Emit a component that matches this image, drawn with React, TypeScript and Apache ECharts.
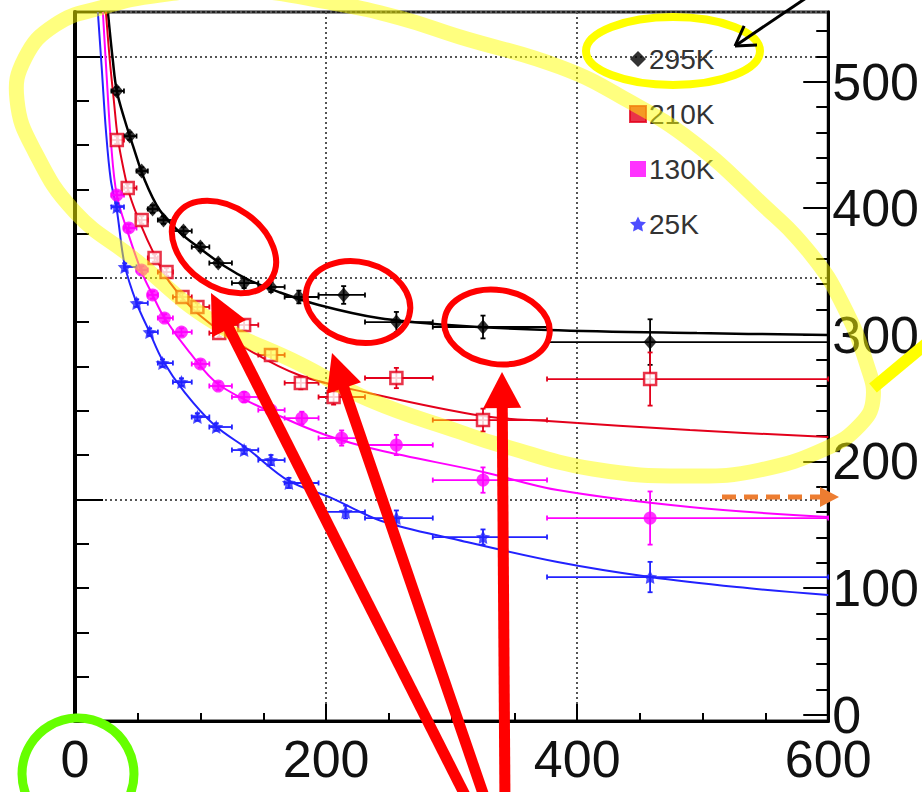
import React, { useEffect, useRef } from 'react';
import * as echarts from 'echarts';

// ---------- data ----------
const RIGHT_MAJOR = [0, 100, 200, 300, 400, 500];
const RIGHT_MINOR = [0, 20, 40, 60, 80, 100, 120, 140, 160, 180, 200, 220, 240, 260, 280, 300, 320, 340, 360, 380, 400, 420, 440, 460, 480, 500, 520, 540];
const BIN_LO = [29, 39, 49, 58, 66, 78, 93, 107, 125, 146, 167, 194, 231, 285, 376];
const BIN_HI = [39, 49, 58, 66, 78, 93, 107, 125, 146, 167, 194, 231, 285, 376, 600];

const LEGEND_NAMES = ['295K', '210K', '130K', '25K'];

const K295_X = [33.3, 43.6, 53.1, 61.8, 70.5, 86.4, 99.9, 114.1, 134.7, 156.1, 178.3, 214.0, 256.0, 325.0, 458.1];
const K295_Y = [492.6, 457.0, 429.4, 399.4, 390.7, 382.0, 369.4, 356.7, 340.9, 337.8, 329.9, 331.5, 310.1, 306.2, 294.3];
const K295_E = [3, 3, 3, 3, 3, 3, 3, 3, 4, 4, 5, 7, 8, 9, 18];

const K210_X = [33.3, 42.0, 53.1, 63.4, 72.9, 85.6, 97.5, 114.9, 134.7, 156.1, 179.9, 206.0, 256.0, 325.0, 458.1];
const K210_Y = [453.9, 416.0, 390.7, 360.7, 349.6, 329.9, 322.0, 301.4, 307.8, 284.1, 262.0, 250.9, 265.9, 232.7, 265.1];
const K210_E = [3, 3, 3, 3, 3, 3, 3, 3, 4, 4, 5, 6, 8, 9, 21];

const K130_X = [33.3, 42.8, 53.1, 61.8, 71.3, 84.8, 99.9, 114.1, 134.7, 156.1, 180.7, 212.4, 256.0, 325.0, 458.1];
const K130_Y = [410.4, 384.4, 351.2, 331.5, 313.3, 302.2, 277.0, 259.6, 250.9, 240.6, 234.3, 218.5, 213.0, 185.3, 155.3];
const K130_E = [3, 3, 3, 3, 3, 3, 3, 3, 4, 4, 5, 6, 8, 10, 21];

const K25_X = [33.3, 39.6, 49.1, 59.4, 69.7, 84.8, 97.5, 112.5, 134.7, 156.1, 170.4, 215.6, 256.0, 325.0, 458.1];
const K25_Y = [401.0, 353.6, 325.1, 302.2, 277.7, 262.7, 235.1, 227.2, 209.0, 201.1, 183.0, 160.1, 155.3, 140.3, 108.7];
const K25_E = [3, 3, 3, 3, 3, 3, 3, 3, 3, 4, 4, 5, 6, 6, 12];

const FIT295_X = [26.2, 30.1, 33.3, 39.6, 46.0, 55.5, 67.4, 83.2, 99.1, 118.9, 138.7, 162.5, 194.2, 241.7, 297.2, 376.5, 495.4, 600];
const FIT295_Y = [555, 517.1, 492.6, 469.7, 449.9, 422.3, 398.6, 381.2, 368.6, 354.4, 343.3, 333.8, 323.6, 313.3, 307.8, 303.9, 301.4, 299.9];

const FIT210_X = [24.6, 27.7, 30.9, 34.1, 38.8, 43.6, 51.5, 63.4, 75.3, 99.1, 138.7, 178.3, 233.8, 325.0, 376.5, 489.8, 600];
const FIT210_Y = [555, 517.1, 485.5, 455.5, 430.2, 410.4, 389.1, 363.0, 341.7, 315.7, 288.0, 268.3, 254.1, 235.9, 231.9, 224.8, 219.3];

const FIT130_X = [22.2, 25.4, 28.5, 33.3, 42.8, 53.1, 61.8, 71.3, 91.1, 114.9, 164.9, 199.7, 241.7, 325.0, 384.4, 489.8, 600];
const FIT130_Y = [555, 501.3, 453.9, 410.4, 378.8, 349.6, 331.5, 313.3, 286.4, 260.4, 235.1, 220.9, 209.0, 191.7, 177.4, 164.0, 156.1];

const FIT25_X = [18.2, 21.4, 24.6, 28.5, 33.3, 39.6, 49.1, 59.4, 69.7, 87.2, 111.0, 138.7, 170.4, 204.5, 244.1, 305.2, 384.4, 458.1, 527.1, 600];
const FIT25_Y = [555, 509.2, 461.8, 422.3, 398.6, 355.1, 325.1, 302.2, 280.1, 254.8, 228.8, 209.0, 184.6, 171.1, 153.0, 138.0, 120.6, 108.7, 100.8, 94.5];

// ---------- styles ----------
const C_BLACK = '#000000';
const C_RED = '#e3001b';
const C_MAG = '#ff00ff';
const C_BLUE = '#2222ff';
const FONT = 'Liberation Sans, Arial, Helvetica, sans-serif';
const STAR = 'path://M0,-10 L2.9,-4 9.5,-3.1 4.7,1.5 5.9,8.1 0,5 -5.9,8.1 -4.7,1.5 -9.5,-3.1 -2.9,-4 Z';

function zip(xs: number[], ys: number[]) {
  return xs.map((x, i) => [x, ys[i]]);
}

function fitSeries(xs: number[], ys: number[], color: string, width: number) {
  return {
    type: 'line',
    yAxisIndex: 1,
    data: zip(xs, ys),
    showSymbol: false,
    smooth: 0.35,
    lineStyle: { color, width },
    silent: true,
    z: 2,
    clip: true,
  };
}

function errSeries(xs: number[], ys: number[], es: number[], color: string) {
  const data = xs.map((x, i) => [x, ys[i], BIN_LO[i], BIN_HI[i], ys[i] - es[i], ys[i] + es[i]]);
  return {
    type: 'custom',
    yAxisIndex: 1,
    data,
    silent: true,
    z: 3,
    clip: true,
    encode: { x: 0, y: 1 },
    renderItem: (params: any, api: any) => {
      const x = api.value(0), y = api.value(1);
      const l = api.coord([api.value(2), y]);
      const r = api.coord([api.value(3), y]);
      const lo = api.coord([x, api.value(4)]);
      const hi = api.coord([x, api.value(5)]);
      const st = { stroke: color, lineWidth: 1.8 };
      const cap = 2.5;
      return {
        type: 'group',
        children: [
          { type: 'line', shape: { x1: l[0], y1: l[1], x2: r[0], y2: r[1] }, style: st },
          { type: 'line', shape: { x1: l[0], y1: l[1] - cap, x2: l[0], y2: l[1] + cap }, style: st },
          { type: 'line', shape: { x1: r[0], y1: r[1] - cap, x2: r[0], y2: r[1] + cap }, style: st },
          { type: 'line', shape: { x1: lo[0], y1: lo[1], x2: hi[0], y2: hi[1] }, style: st },
          { type: 'line', shape: { x1: lo[0] - cap, y1: lo[1], x2: lo[0] + cap, y2: lo[1] }, style: st },
          { type: 'line', shape: { x1: hi[0] - cap, y1: hi[1], x2: hi[0] + cap, y2: hi[1] }, style: st },
        ],
      };
    },
  };
}

function arrowEls(x1: number, y1: number, x2: number, y2: number, color: string, w: number, headLen: number, headHalf: number) {
  const dx = x2 - x1, dy = y2 - y1;
  const L = Math.hypot(dx, dy);
  const ux = dx / L, uy = dy / L;
  const bx = x2 - ux * headLen, by = y2 - uy * headLen;
  const px = -uy, py = ux;
  return [
    { type: 'line', z: 120, silent: true, shape: { x1, y1, x2: bx + ux * 3, y2: by + uy * 3 }, style: { stroke: color, lineWidth: w } },
    {
      type: 'polygon', z: 120, silent: true,
      shape: { points: [[x2, y2], [bx + px * headHalf, by + py * headHalf], [bx - px * headHalf, by - py * headHalf]] },
      style: { fill: color },
    },
  ];
}

function vArrowEls(x1: number, y1: number, x2: number, y2: number, color: string, w: number, arm: number) {
  const dx = x1 - x2, dy = y1 - y2;
  const L = Math.hypot(dx, dy);
  const ux = dx / L, uy = dy / L;
  const a = 0.55;
  const r1x = ux * Math.cos(a) - uy * Math.sin(a), r1y = ux * Math.sin(a) + uy * Math.cos(a);
  const r2x = ux * Math.cos(-a) - uy * Math.sin(-a), r2y = ux * Math.sin(-a) + uy * Math.cos(-a);
  const st = { stroke: color, lineWidth: w };
  return [
    { type: 'line', z: 120, silent: true, shape: { x1, y1, x2, y2 }, style: st },
    { type: 'line', z: 120, silent: true, shape: { x1: x2, y1: y2, x2: x2 + r1x * arm, y2: y2 + r1y * arm }, style: st },
    { type: 'line', z: 120, silent: true, shape: { x1: x2, y1: y2, x2: x2 + r2x * arm, y2: y2 + r2y * arm }, style: st },
  ];
}

const BIG_LOOP = [[17, 100], [25, 58], [55, 25], [100, 8], [160, -5], [240, -10], [333, 3], [400, 18], [460, 37], [560, 67], [627, 100], [693, 142], [760, 202], [810, 253], [843, 305], [867, 365], [873, 400], [860, 425], [827, 448], [760, 470], [693, 476], [593, 469], [500, 445], [460, 432], [370, 400], [300, 364], [212, 321], [133, 258], [75, 212], [35, 152]];

export default function App() {
  const ref = useRef<HTMLDivElement>(null);
  useEffect(() => {
    if (!ref.current) return;
    const chart = echarts.init(ref.current, undefined, { renderer: 'svg' });
    const dotted = { type: [2, 3], color: '#555', width: 2 };
    const graphics: any[] = [
      {
        type: 'polygon', z: 110, silent: true,
        shape: { points: BIG_LOOP, smooth: 0.45 },
        style: { fill: 'none', stroke: '#ffff00', lineWidth: 15, opacity: 0.5 },
      },
      {
        type: 'ellipse', z: 115, silent: true, x: 673, y: 51,
        shape: { cx: 0, cy: 0, rx: 87, ry: 34 },
        style: { fill: 'none', stroke: '#ffff00', lineWidth: 8 },
      },
      {
        type: 'line', z: 115, silent: true,
        shape: { x1: 873, y1: 388, x2: 926, y2: 344 },
        style: { stroke: '#ffff00', lineWidth: 12 },
      },
      ...vArrowEls(812, -6, 735, 46, '#000', 3, 22),
      {
        type: 'ellipse', z: 118, silent: true, x: 224, y: 247, rotation: -0.61,
        shape: { cx: 0, cy: 0, rx: 57, ry: 40 },
        style: { fill: 'none', stroke: '#ff0000', lineWidth: 6 },
      },
      {
        type: 'ellipse', z: 118, silent: true, x: 358, y: 302, rotation: -0.26,
        shape: { cx: 0, cy: 0, rx: 53, ry: 40 },
        style: { fill: 'none', stroke: '#ff0000', lineWidth: 6 },
      },
      {
        type: 'ellipse', z: 118, silent: true, x: 497, y: 327, rotation: -0.15,
        shape: { cx: 0, cy: 0, rx: 53, ry: 37 },
        style: { fill: 'none', stroke: '#ff0000', lineWidth: 6 },
      },
      ...arrowEls(470, 805, 211, 293, '#ff0000', 11, 40, 19),
      ...arrowEls(487, 805, 332, 353, '#ff0000', 11, 37, 18),
      ...arrowEls(505, 805, 502, 372, '#ff0000', 11, 36, 19),
      {
        type: 'line', z: 115, silent: true,
        shape: { x1: 722, y1: 497, x2: 822, y2: 497 },
        style: { stroke: '#ed7d31', lineWidth: 5, lineDash: [14, 8] },
      },
      {
        type: 'polygon', z: 115, silent: true,
        shape: { points: [[820, 487], [839, 497], [820, 507]] },
        style: { fill: '#ed7d31' },
      },
      {
        type: 'circle', z: 118, silent: true,
        shape: { cx: 78, cy: 774, r: 56 },
        style: { fill: 'none', stroke: '#66ff00', lineWidth: 9 },
      },
    ];

    const option: any = {
      animation: false,
      backgroundColor: '#ffffff',
      grid: { left: 75, right: 90, top: 12, bottom: 71, show: true, borderColor: '#222', borderWidth: 3, backgroundColor: 'transparent' },
      legend: {
        orient: 'vertical',
        left: 624,
        top: 40,
        itemWidth: 16,
        itemHeight: 16,
        itemGap: 27,
        selectedMode: false,
        textStyle: { fontSize: 28, color: '#333', fontFamily: FONT, padding: [0, 0, 0, -2] },
        data: [
          { name: LEGEND_NAMES[0], icon: 'diamond', itemStyle: { color: C_BLACK } },
          { name: LEGEND_NAMES[1], icon: 'rect', itemStyle: { color: C_RED, borderColor: C_RED } },
          { name: LEGEND_NAMES[2], icon: 'rect', itemStyle: { color: C_MAG } },
          { name: LEGEND_NAMES[3], icon: STAR, itemStyle: { color: C_BLUE } },
        ],
      },
      xAxis: {
        type: 'value', min: 0, max: 600, interval: 200,
        axisLine: { show: true, lineStyle: { color: '#000', width: 3 } },
        axisTick: { show: true, inside: true, length: 17, lineStyle: { color: '#000', width: 2 } },
        minorTick: { show: true, splitNumber: 4, length: 8, lineStyle: { color: '#000', width: 2 } },
        axisLabel: { fontSize: 52, lineHeight: 40, color: '#111', fontFamily: FONT, margin: 18 },
        splitLine: { show: true, lineStyle: dotted },
      },
      yAxis: [
        {
          type: 'value', min: 0, max: 3.2, interval: 1, position: 'left',
          axisLine: { show: true, lineStyle: { color: '#000', width: 4 } },
          axisTick: { show: true, inside: true, length: 28, lineStyle: { color: '#000', width: 2 } },
          minorTick: { show: true, splitNumber: 5, length: 14, lineStyle: { color: '#000', width: 2 } },
          axisLabel: { show: false },
          splitLine: { show: true, lineStyle: dotted },
        },
        {
          type: 'value', min: -5, max: 555, position: 'right', offset: 0,
          axisLine: { show: true, lineStyle: { color: '#000', width: 3 } },
          axisTick: { show: true, inside: true, length: 25, customValues: RIGHT_MAJOR, lineStyle: { color: '#000', width: 2 } },
          axisLabel: { show: true, customValues: RIGHT_MAJOR, fontSize: 52, lineHeight: 40, color: '#111', fontFamily: FONT, margin: 4 },
          splitLine: { show: false },
        },
        {
          type: 'value', min: -5, max: 555, position: 'right', offset: 0,
          axisLine: { show: false },
          axisTick: { show: true, inside: true, length: 12, customValues: RIGHT_MINOR, lineStyle: { color: '#000', width: 2 } },
          axisLabel: { show: false },
          splitLine: { show: false },
        },
      ],
      series: [
        fitSeries(FIT295_X, FIT295_Y, C_BLACK, 2.5),
        fitSeries(FIT210_X, FIT210_Y, C_RED, 2),
        fitSeries(FIT130_X, FIT130_Y, C_MAG, 2),
        fitSeries(FIT25_X, FIT25_Y, C_BLUE, 2),
        errSeries(K295_X, K295_Y, K295_E, C_BLACK),
        errSeries(K210_X, K210_Y, K210_E, C_RED),
        errSeries(K130_X, K130_Y, K130_E, C_MAG),
        errSeries(K25_X, K25_Y, K25_E, C_BLUE),
        {
          name: LEGEND_NAMES[0], type: 'scatter', yAxisIndex: 1, data: zip(K295_X, K295_Y),
          symbol: 'diamond', symbolSize: [13, 15], itemStyle: { color: C_BLACK }, z: 5, silent: true,
        },
        {
          name: LEGEND_NAMES[1], type: 'scatter', yAxisIndex: 1, data: zip(K210_X, K210_Y),
          symbol: 'rect', symbolSize: 12, itemStyle: { color: '#ffffff', borderColor: C_RED, borderWidth: 2.5 }, z: 5, silent: true,
        },
        {
          name: LEGEND_NAMES[2], type: 'scatter', yAxisIndex: 1, data: zip(K130_X, K130_Y),
          symbol: 'circle', symbolSize: 13, itemStyle: { color: C_MAG }, z: 5, silent: true,
        },
        {
          name: LEGEND_NAMES[3], type: 'scatter', yAxisIndex: 1, data: zip(K25_X, K25_Y),
          symbol: STAR, symbolSize: 14, itemStyle: { color: C_BLUE }, z: 5, silent: true,
        },
      ],
      graphic: graphics,
    };
    chart.setOption(option);
    return () => chart.dispose();
  }, []);
  return <div ref={ref} style={{ position: 'fixed', left: 0, top: 0, width: 922, height: 792 }} />;
}
